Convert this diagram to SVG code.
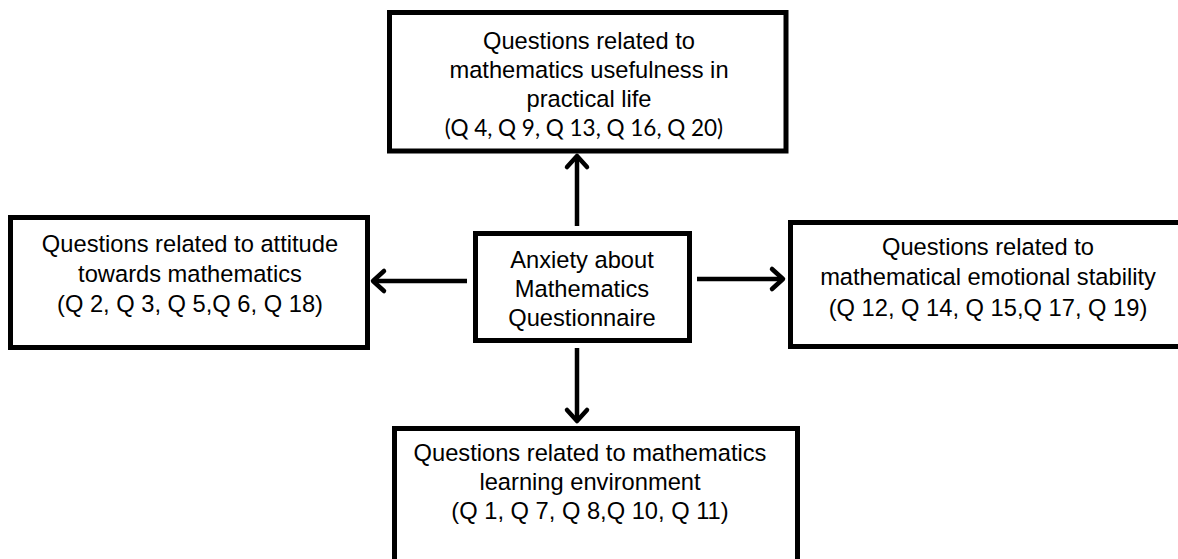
<svg xmlns="http://www.w3.org/2000/svg" width="1178" height="559" viewBox="0 0 1178 559">
<style>
.box{fill:#fff;stroke:#000;stroke-width:5}
.t{font-family:"Liberation Sans",Arial,sans-serif;font-size:23.7px;fill:#000;text-anchor:middle}
.c{font-family:Lato,"Open Sans",sans-serif;font-size:22.5px;fill:#000;text-anchor:middle}
.ln{fill:none;stroke:#000;stroke-width:4.5}
.hd{fill:none;stroke:#000;stroke-width:4.5;stroke-linecap:round;stroke-linejoin:round}
</style>
<rect width="1178" height="559" fill="#fff"/>
<g id="top">
<rect class="box" x="389.5" y="12.5" width="396.5" height="138.5"/>
<text class="t" x="589" y="49">Questions related to</text>
<text class="t" x="589" y="78">mathematics usefulness in</text>
<text class="t" x="589" y="107">practical life</text>
<text class="c" x="584" y="136">(Q 4, Q 9, Q 13, Q 16, Q 20)</text>
</g>
<g id="left">
<rect class="box" x="10.5" y="217.5" width="357" height="130"/>
<text class="t" x="190" y="252">Questions related to attitude</text>
<text class="t" x="190" y="282">towards mathematics</text>
<text class="t" x="190" y="312">(Q 2, Q 3, Q 5,Q 6, Q 18)</text>
</g>
<g id="center">
<rect class="box" x="475.5" y="233.5" width="214" height="107"/>
<text class="t" x="582" y="268">Anxiety about</text>
<text class="t" x="582" y="297">Mathematics</text>
<text class="t" x="582" y="326">Questionnaire</text>
</g>
<g id="right">
<rect class="box" x="790.5" y="222.5" width="400" height="124"/>
<text class="t" x="988" y="255">Questions related to</text>
<text class="t" x="988" y="285">mathematical emotional stability</text>
<text class="t" x="988" y="316">(Q 12, Q 14, Q 15,Q 17, Q 19)</text>
</g>
<g id="bottom">
<rect class="box" x="394.5" y="428.5" width="403" height="150"/>
<text class="t" x="590" y="461">Questions related to mathematics</text>
<text class="t" x="590" y="490">learning environment</text>
<text class="t" x="590" y="519">(Q 1, Q 7, Q 8,Q 10, Q 11)</text>
</g>
<g id="connectors">
<line class="ln" x1="577" y1="226" x2="577" y2="157"/>
<polyline class="hd" points="567,167 577,156 587,167"/>
<line class="ln" x1="467" y1="281" x2="374" y2="281"/>
<polyline class="hd" points="384,271 373,281 384,291"/>
<line class="ln" x1="697" y1="279" x2="782" y2="279"/>
<polyline class="hd" points="772,269 783,279 772,289"/>
<line class="ln" x1="577" y1="348" x2="577" y2="420"/>
<polyline class="hd" points="567,410 577,421 587,410"/>
</g>
</svg>
